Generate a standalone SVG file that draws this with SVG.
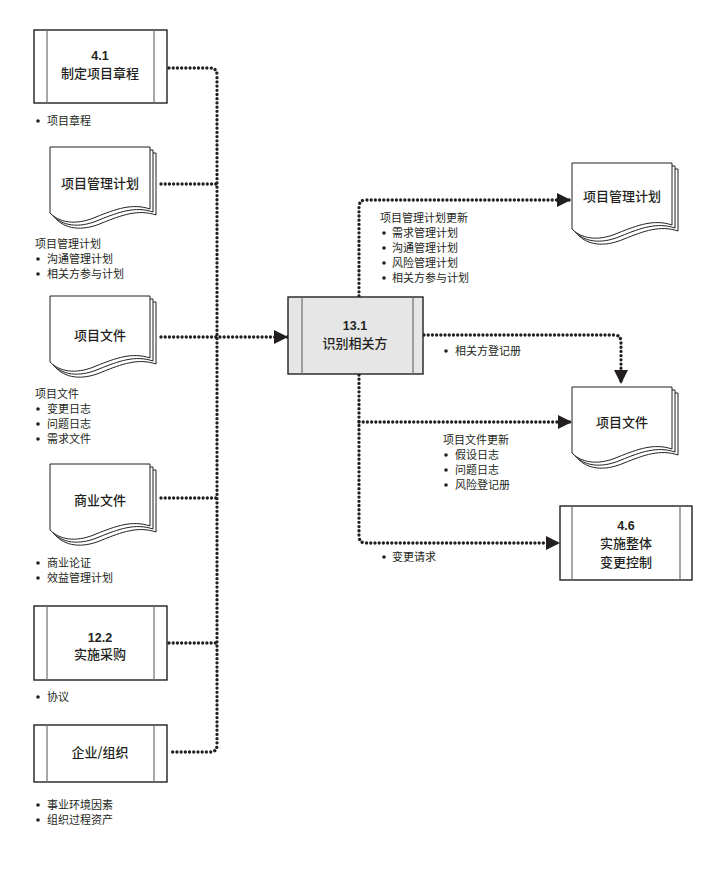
<svg xmlns="http://www.w3.org/2000/svg" width="709" height="869" viewBox="0 0 709 869">
<style>
.t{font-family:"Noto Sans CJK SC","Liberation Sans",sans-serif;fill:#231f20}
.ti{font-size:13px;font-weight:500;text-anchor:middle}
.num{font-family:"Liberation Sans","Noto Sans CJK SC",sans-serif;font-size:12.5px;font-weight:bold;text-anchor:middle;fill:#231f20}
.li{font-size:11px}
.box{fill:#fff;stroke:#231f20;stroke-width:1.4}
.cbox{fill:#e6e6e6;stroke:#231f20;stroke-width:1.4}
.inner{stroke:#6d6e71;stroke-width:1.2;fill:none}
.pg{fill:#fff;stroke:#231f20;stroke-width:1}
.dot{fill:none;stroke:#231f20;stroke-width:3.3;stroke-linecap:round;stroke-dasharray:0.01 4.2}
.bul{fill:#231f20}
</style>
<defs>
<marker id="arr" markerUnits="userSpaceOnUse" markerWidth="14" markerHeight="14" viewBox="0 0 14 14" refX="14" refY="7" orient="auto">
<path d="M0,0 L14,7 L0,14 z" fill="#231f20"/>
</marker>
<path id="page" d="M0,0 H100 V62 C82,56 66,62 46,70 C30,77 12,78 0,66 Z"/>
<g id="doc">
<use href="#page" x="6" y="6" class="pg"/>
<use href="#page" x="3" y="3" class="pg"/>
<use href="#page" class="pg"/>
</g>
</defs>

<g id="connectors">
<path class="dot" d="M169,68 H210 Q217,68 217,75 V745 Q217,752 210,752 H169"/>
<path class="dot" d="M161,184 H217"/>
<path class="dot" d="M161,337 H288" marker-end="url(#arr)"/>
<path class="dot" d="M161,498 H217"/>
<path class="dot" d="M169,643 H217"/>
<path class="dot" d="M359,296 V207 Q359,200 366,200 H571" marker-end="url(#arr)"/>
<path class="dot" d="M424,335 H614 Q621,335 621,342 V384" marker-end="url(#arr)"/>
<path class="dot" d="M359,375 V536 Q359,543 366,543 H560" marker-end="url(#arr)"/>
<path class="dot" d="M359,422 H572" marker-end="url(#arr)"/>
</g>

<g id="n41">
<rect class="box" x="34" y="30" width="133" height="73"/>
<line class="inner" x1="47" y1="30" x2="47" y2="103"/>
<line class="inner" x1="154" y1="30" x2="154" y2="103"/>
<text class="num" x="100" y="60">4.1</text>
<text class="t ti" x="100" y="78">制定项目章程</text>
<circle class="bul" cx="38" cy="121" r="1.8"/>
<text class="t li" x="47" y="125">项目章程</text>
</g>

<g id="pmp-in">
<use href="#doc" x="50" y="147"/>
<text class="t ti" x="100" y="188">项目管理计划</text>
<text class="t li" x="35" y="248">项目管理计划</text>
<circle class="bul" cx="38" cy="259" r="1.8"/>
<text class="t li" x="47" y="263">沟通管理计划</text>
<circle class="bul" cx="38" cy="274" r="1.8"/>
<text class="t li" x="47" y="278">相关方参与计划</text>
</g>

<g id="pd-in">
<use href="#doc" x="50" y="296"/>
<text class="t ti" x="100" y="340">项目文件</text>
<text class="t li" x="35" y="398">项目文件</text>
<circle class="bul" cx="38" cy="409" r="1.8"/>
<text class="t li" x="47" y="413">变更日志</text>
<circle class="bul" cx="38" cy="424" r="1.8"/>
<text class="t li" x="47" y="428">问题日志</text>
<circle class="bul" cx="38" cy="439" r="1.8"/>
<text class="t li" x="47" y="443">需求文件</text>
</g>

<g id="bd-in">
<use href="#doc" x="50" y="464"/>
<text class="t ti" x="100" y="505">商业文件</text>
<circle class="bul" cx="38" cy="563" r="1.8"/>
<text class="t li" x="47" y="567">商业论证</text>
<circle class="bul" cx="38" cy="578" r="1.8"/>
<text class="t li" x="47" y="582">效益管理计划</text>
</g>

<g id="n122">
<rect class="box" x="34" y="606" width="133" height="74"/>
<line class="inner" x1="47" y1="606" x2="47" y2="680"/>
<line class="inner" x1="154" y1="606" x2="154" y2="680"/>
<text class="num" x="100" y="642">12.2</text>
<text class="t ti" x="100" y="659">实施采购</text>
<circle class="bul" cx="38" cy="697" r="1.8"/>
<text class="t li" x="47" y="701">协议</text>
</g>

<g id="org">
<rect class="box" x="34" y="725" width="133" height="57"/>
<line class="inner" x1="47" y1="725" x2="47" y2="782"/>
<line class="inner" x1="154" y1="725" x2="154" y2="782"/>
<text class="t ti" x="100" y="757">企业/组织</text>
<circle class="bul" cx="38" cy="805" r="1.8"/>
<text class="t li" x="47" y="809">事业环境因素</text>
<circle class="bul" cx="38" cy="820" r="1.8"/>
<text class="t li" x="47" y="824">组织过程资产</text>
</g>

<g id="n131">
<rect class="cbox" x="288" y="297" width="135" height="77"/>
<line class="inner" x1="302" y1="297" x2="302" y2="374"/>
<line class="inner" x1="413" y1="297" x2="413" y2="374"/>
<text class="num" x="355" y="330">13.1</text>
<text class="t ti" x="355" y="348">识别相关方</text>
</g>

<g id="pmp-out">
<use href="#doc" x="572" y="163"/>
<text class="t ti" x="622" y="201">项目管理计划</text>
<text class="t li" x="380" y="222">项目管理计划更新</text>
<circle class="bul" cx="384" cy="233" r="1.8"/>
<text class="t li" x="392" y="237">需求管理计划</text>
<circle class="bul" cx="384" cy="248" r="1.8"/>
<text class="t li" x="392" y="252">沟通管理计划</text>
<circle class="bul" cx="384" cy="263" r="1.8"/>
<text class="t li" x="392" y="267">风险管理计划</text>
<circle class="bul" cx="384" cy="278" r="1.8"/>
<text class="t li" x="392" y="282">相关方参与计划</text>
</g>

<circle class="bul" cx="446" cy="351" r="1.8"/>
<text class="t li" x="455" y="355">相关方登记册</text>

<g id="pd-out">
<use href="#doc" x="572" y="387"/>
<text class="t ti" x="622" y="427">项目文件</text>
<text class="t li" x="443" y="444">项目文件更新</text>
<circle class="bul" cx="446" cy="455" r="1.8"/>
<text class="t li" x="455" y="459">假设日志</text>
<circle class="bul" cx="446" cy="470" r="1.8"/>
<text class="t li" x="455" y="474">问题日志</text>
<circle class="bul" cx="446" cy="485" r="1.8"/>
<text class="t li" x="455" y="489">风险登记册</text>
</g>

<g id="n46">
<rect class="box" x="560" y="506" width="132" height="74"/>
<line class="inner" x1="572" y1="506" x2="572" y2="580"/>
<line class="inner" x1="680" y1="506" x2="680" y2="580"/>
<text class="num" x="626" y="530">4.6</text>
<text class="t ti" x="626" y="548">实施整体</text>
<text class="t ti" x="626" y="567">变更控制</text>
</g>

<circle class="bul" cx="384" cy="557" r="1.8"/>
<text class="t li" x="392" y="561">变更请求</text>
</svg>
